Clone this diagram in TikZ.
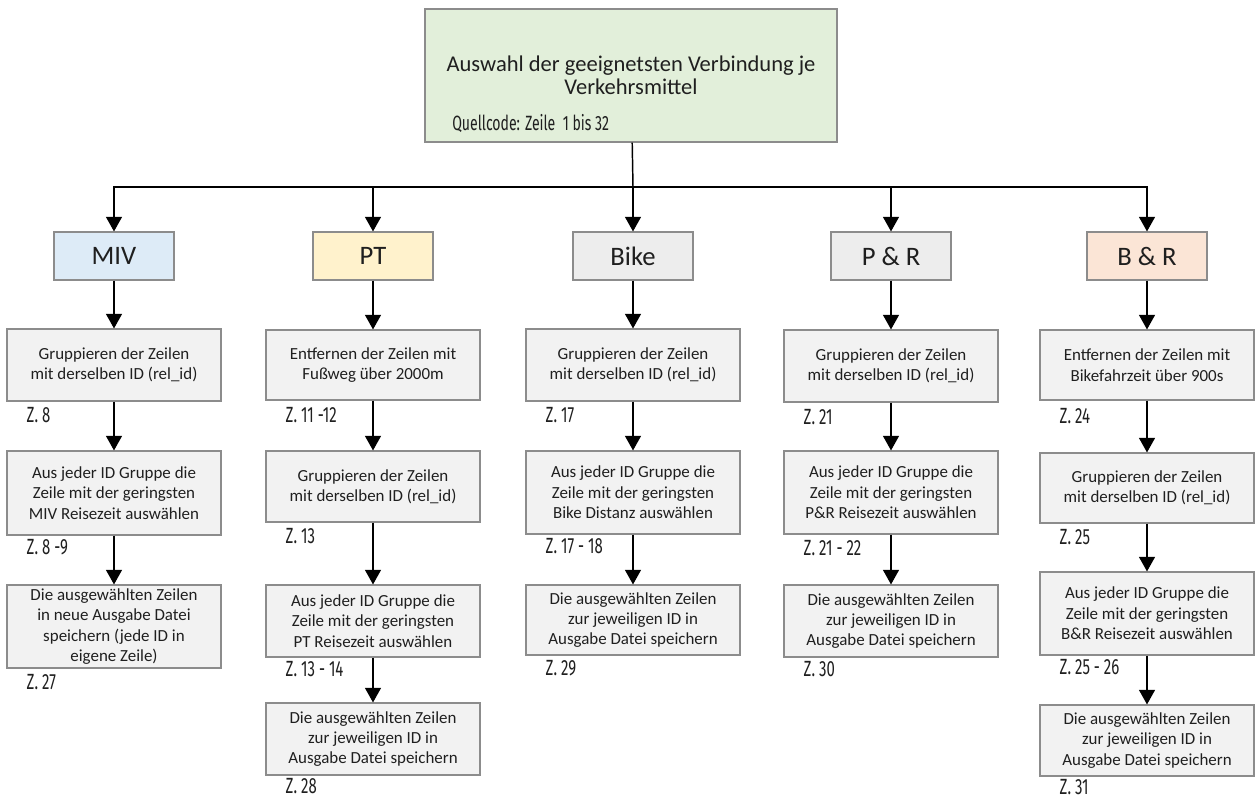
\documentclass[tikz,border=0pt]{standalone}
\usepackage{fontspec}
\setmainfont{Carlito}
\newfontfamily\zfont[FakeStretch=0.68]{Fira Sans}
\usetikzlibrary{arrows.meta}

\definecolor{gruen}{HTML}{E2EFDA}
\definecolor{blau}{HTML}{DDEBF7}
\definecolor{gelb}{HTML}{FFF2CC}
\definecolor{grau}{HTML}{EDEDED}
\definecolor{lachs}{HTML}{FBE5D6}
\definecolor{kastenfill}{HTML}{F2F2F2}
\definecolor{rand}{HTML}{8C8C8C}
\definecolor{schrift}{HTML}{1F1F1F}

\tikzset{
  pfeil/.style={-{Triangle[width=12pt,length=11pt]}, line width=1.1pt},
  modus/.style={draw=rand, line width=0.8pt, minimum width=90pt,
    minimum height=36pt, inner sep=0pt, text=schrift,
    font=\fontsize{20}{24}\selectfont},
  kasten/.style={draw=rand, line width=0.8pt, fill=kastenfill,
    minimum width=160.5pt, inner sep=0pt, align=center, text=schrift,
    font=\fontsize{12.7}{15.3}\selectfont},
  zeile/.style={anchor=west, inner sep=0pt, text=schrift,
    font=\zfont\fontsize{16.5}{18}\selectfont},
}

\begin{document}
\begin{tikzpicture}[x=0.75pt,y=-0.75pt]
  \useasboundingbox (0,0) rectangle (1256,798);

  % Oberster Kasten.
  \node[draw=rand, line width=0.8pt, fill=gruen, minimum width=309pt,
    minimum height=99.75pt, align=center, text=schrift,
    font=\fontsize{16.9}{17.6}\selectfont] (top) at (631,75.5)
    {Auswahl der geeignetsten Verbindung je\\Verkehrsmittel};
  \node[zeile, font=\zfont\fontsize{15.5}{17}\selectfont] (quelle)
    at (452,124) {Quellcode: Zeile\ \ 1 bis 32};

  % Verkehrsmittel.
  \node[modus, fill=blau] (miv) at (114,256) {MIV};
  \node[modus, fill=gelb] (pt) at (373,256) {PT};
  \node[modus, fill=grau] (bike) at (633,256) {Bike};
  \node[modus, fill=grau] (pr) at (891,256) {P \& R};
  \node[modus, fill=lachs] (br) at (1147,256) {B \& R};

  \coordinate (bus) at (633,187);
  \draw[line width=1.1pt] (top) -- (bus);
  \draw[pfeil] (bus) -| (miv);
  \draw[pfeil] (bus) -| (pt);
  \draw[pfeil] (bus) -- (bike);
  \draw[pfeil] (bus) -| (pr);
  \draw[pfeil] (bus) -| (br);

  % MIV.
  \node[kasten, minimum height=54pt] (miv1) at (114,365)
    {Gruppieren der Zeilen\\mit derselben ID (rel\_id)};
  \node[kasten, minimum height=63pt] (miv2) at (114,493)
    {Aus jeder ID Gruppe die\\Zeile mit der geringsten\\MIV Reisezeit auswählen};
  \node[kasten, minimum height=62.25pt] (miv3) at (114,626.5)
    {Die ausgewählten Zeilen\\in neue Ausgabe Datei\\speichern (jede ID in\\eigene Zeile)};
  \draw[pfeil] (miv) -- (miv1);
  \draw[pfeil] (miv1) -- (miv2);
  \draw[pfeil] (miv2) -- (miv3);
  \node[zeile] (zmiv1) at ([xshift=15pt,yshift=-10pt]miv1.south west) {Z. 8};
  \node[zeile] (zmiv2) at ([xshift=15pt,yshift=-9pt]miv2.south west) {Z. 8 -9};
  \node[zeile] (zmiv3) at ([xshift=15pt,yshift=-10pt]miv3.south west) {Z. 27};

  % PT.
  \node[kasten, minimum height=52.5pt] (pt1) at (373,365)
    {Entfernen der Zeilen mit\\Fußweg über 2000m};
  \node[kasten, minimum height=53.25pt] (pt2) at (373,486.5)
    {Gruppieren der Zeilen\\mit derselben ID (rel\_id)};
  \node[kasten, minimum height=54pt] (pt3) at (373,621)
    {Aus jeder ID Gruppe die\\Zeile mit der geringsten\\PT Reisezeit auswählen};
  \node[kasten, minimum height=54pt] (pt4) at (373,739)
    {Die ausgewählten Zeilen\\zur jeweiligen ID in\\Ausgabe Datei speichern};
  \draw[pfeil] (pt) -- (pt1);
  \draw[pfeil] (pt1) -- (pt2);
  \draw[pfeil] (pt2) -- (pt3);
  \draw[pfeil] (pt3) -- (pt4);
  \node[zeile] (zpt1) at ([xshift=15pt,yshift=-11pt]pt1.south west) {Z. 11 -12};
  \node[zeile] (zpt2) at ([xshift=15pt,yshift=-10pt]pt2.south west) {Z. 13};
  \node[zeile] (zpt3) at ([xshift=15pt,yshift=-8.5pt]pt3.south west) {Z. 13 - 14};
  \node[zeile] (zpt4) at ([xshift=15pt,yshift=-8pt]pt4.south west) {Z. 28};

  % Bike.
  \node[kasten, minimum height=54pt] (bike1) at (633,365)
    {Gruppieren der Zeilen\\mit derselben ID (rel\_id)};
  \node[kasten, minimum height=62.25pt] (bike2) at (633,492.5)
    {Aus jeder ID Gruppe die\\Zeile mit der geringsten\\Bike Distanz auswählen};
  \node[kasten, minimum height=52.5pt] (bike3) at (633,620)
    {Die ausgewählten Zeilen\\zur jeweiligen ID in\\Ausgabe Datei speichern};
  \draw[pfeil] (bike) -- (bike1);
  \draw[pfeil] (bike1) -- (bike2);
  \draw[pfeil] (bike2) -- (bike3);
  \node[zeile] (zbike1) at ([xshift=15pt,yshift=-10.5pt]bike1.south west) {Z. 17};
  \node[zeile] (zbike2) at ([xshift=15pt,yshift=-9pt]bike2.south west) {Z. 17 - 18};
  \node[zeile] (zbike3) at ([xshift=15pt,yshift=-9.5pt]bike3.south west) {Z. 29};

  % P & R.
  \node[kasten, minimum height=54pt] (pr1) at (891,366)
    {Gruppieren der Zeilen\\mit derselben ID (rel\_id)};
  \node[kasten, minimum height=62.25pt] (pr2) at (891,492.5)
    {Aus jeder ID Gruppe die\\Zeile mit der geringsten\\P\&R Reisezeit auswählen};
  \node[kasten, minimum height=54pt] (pr3) at (891,621)
    {Die ausgewählten Zeilen\\zur jeweiligen ID in\\Ausgabe Datei speichern};
  \draw[pfeil] (pr) -- (pr1);
  \draw[pfeil] (pr1) -- (pr2);
  \draw[pfeil] (pr2) -- (pr3);
  \node[zeile] (zpr1) at ([xshift=15pt,yshift=-11pt]pr1.south west) {Z. 21};
  \node[zeile] (zpr2) at ([xshift=15pt,yshift=-10pt]pr2.south west) {Z. 21 - 22};
  \node[zeile] (zpr3) at ([xshift=15pt,yshift=-9pt]pr3.south west) {Z. 30};

  % B & R.
  \node[kasten, minimum height=52.5pt] (br1) at (1147,365)
    {Entfernen der Zeilen mit\\Bikefahrzeit über 900s};
  \node[kasten, minimum height=52.5pt] (br2) at (1147,488)
    {Gruppieren der Zeilen\\mit derselben ID (rel\_id)};
  \node[kasten, minimum height=62.25pt] (br3) at (1147,613.5)
    {Aus jeder ID Gruppe die\\Zeile mit der geringsten\\B\&R Reisezeit auswählen};
  \node[kasten, minimum height=53.25pt] (br4) at (1147,740.5)
    {Die ausgewählten Zeilen\\zur jeweiligen ID in\\Ausgabe Datei speichern};
  \draw[pfeil] (br) -- (br1);
  \draw[pfeil] (br1) -- (br2);
  \draw[pfeil] (br2) -- (br3);
  \draw[pfeil] (br3) -- (br4);
  \node[zeile] (zbr1) at ([xshift=15pt,yshift=-12pt]br1.south west) {Z. 24};
  \node[zeile] (zbr2) at ([xshift=15pt,yshift=-10pt]br2.south west) {Z. 25};
  \node[zeile] (zbr3) at ([xshift=15pt,yshift=-9pt]br3.south west) {Z. 25 - 26};
  \node[zeile] (zbr4) at ([xshift=15pt,yshift=-8pt]br4.south west) {Z. 31};
\end{tikzpicture}
\end{document}
